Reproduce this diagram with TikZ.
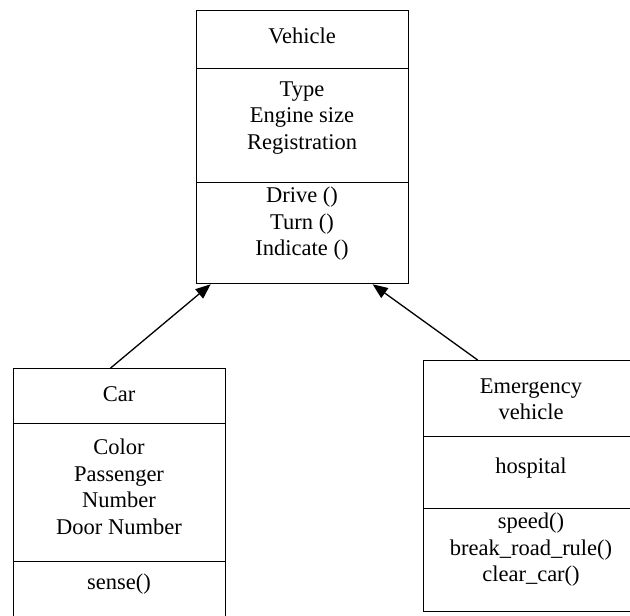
\documentclass[tikz,border=0pt]{standalone}
\usepackage{fontspec}
\setmainfont{Liberation Serif}
\usetikzlibrary{arrows.meta}
\begin{document}
\begin{tikzpicture}[x=1pt,y=-1pt,
  comp/.style={draw=black,line width=1.3pt,rectangle,inner sep=0pt,anchor=north west},
  txt/.style={align=center,inner sep=0pt,font=\fontsize{22.5}{26.5}\selectfont},
  inh/.style={line width=1.3pt,-{Triangle[length=15pt,width=12pt]}}]
\useasboundingbox (0,0) rectangle (630,616);
\clip (0,0) rectangle (630,616);
% Vehicle
\node[comp,minimum width=212pt,minimum height=58pt] (vname) at (196,10) {};
\node[comp,minimum width=212pt,minimum height=114pt] (vattr) at (196,68) {};
\node[comp,minimum width=212pt,minimum height=101pt] (vmeth) at (196,182) {};
\node[txt] (vnamet) at (302,36) {Vehicle};
\node[txt] (vattrt) at (302,118) {Type\\Engine size\\Registration};
\node[txt] (vmetht) at (302,224) {Drive ()\\Turn ()\\Indicate ()};
% Car
\node[comp,minimum width=212pt,minimum height=55pt] (cname) at (13,368) {};
\node[comp,minimum width=212pt,minimum height=138pt] (cattr) at (13,423) {};
\node[comp,minimum width=212pt,minimum height=90pt] (cmeth) at (13,561) {};
\node[txt] (cnamet) at (119,394) {Car};
\node[txt] (cattrt) at (119,487) {Color\\Passenger\\Number\\Door Number};
\node[txt] (cmetht) at (119,584) {sense()};
% Emergency vehicle
\node[comp,minimum width=217pt,minimum height=76pt] (ename) at (423,360) {};
\node[comp,minimum width=217pt,minimum height=72pt] (eattr) at (423,436) {};
\node[comp,minimum width=217pt,minimum height=103pt] (emeth) at (423,508) {};
\node[txt] (enamet) at (531,399) {Emergency\\vehicle};
\node[txt] (eattrt) at (531,468) {hospital};
\node[txt] (emetht) at (531,550) {speed()\\break\_road\_rule()\\clear\_car()};
% Inheritance arrows
\draw[inh] ([xshift=-9pt]cname.north) -- ([xshift=-92pt]vmeth.south);
\draw[inh] ([xshift=-54.5pt]ename.north) -- ([xshift=70pt]vmeth.south);
\end{tikzpicture}
\end{document}
